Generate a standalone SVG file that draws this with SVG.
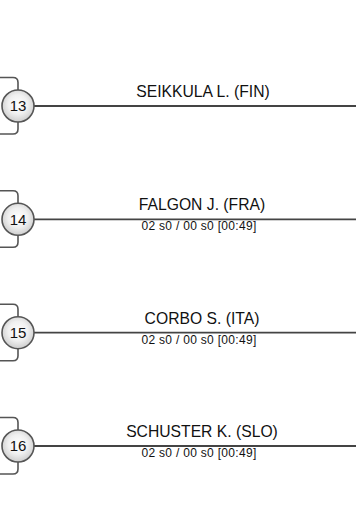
<svg xmlns="http://www.w3.org/2000/svg" width="358" height="519" viewBox="0 0 358 519">
<defs>
<radialGradient id="g" cx="0.5" cy="0.45" r="0.55">
<stop offset="0" stop-color="#ffffff"/>
<stop offset="0.55" stop-color="#f0f0f0"/>
<stop offset="1" stop-color="#cdcdcd"/>
</radialGradient>
<style>
.br{fill:none;stroke:#555;stroke-width:1.6}
.ln{fill:none;stroke:#444;stroke-width:1.8}
.c{fill:url(#g);stroke:#555;stroke-width:1.6}
.n{font-family:"Liberation Sans",Arial,sans-serif;font-size:15px;fill:#111;text-anchor:middle}
.nm{font-family:"Liberation Sans",Arial,sans-serif;font-size:15.7px;fill:#111;text-anchor:middle}
.sc{font-family:"Liberation Sans",Arial,sans-serif;font-size:12px;letter-spacing:0.3px;fill:#111;text-anchor:middle}
</style>
</defs>
<rect width="358" height="519" fill="#fff"/>
<g id="connectors">
<path class="br" d="M0,77.5 H13 Q18,77.5 18,82.5 V90 M18,122 V129 Q18,134 13,134 H0"/>
<path class="ln" d="M34,106 H356"/>
<path class="br" d="M0,190.8 H13 Q18,190.8 18,195.8 V203.3 M18,235.3 V242.3 Q18,247.3 13,247.3 H0"/>
<path class="ln" d="M34,219.3 H356"/>
<path class="br" d="M0,304.2 H13 Q18,304.2 18,309.2 V316.7 M18,348.7 V355.7 Q18,360.7 13,360.7 H0"/>
<path class="ln" d="M34,332.7 H356"/>
<path class="br" d="M0,417.5 H13 Q18,417.5 18,422.5 V430 M18,462 V469 Q18,474 13,474 H0"/>
<path class="ln" d="M34,446 H356"/>
</g>
<g id="n13">
<circle class="c" cx="18" cy="106" r="16"/>
<text class="n" x="18" y="111.3">13</text>
<text class="nm" x="203" y="97">SEIKKULA L. (FIN)</text>
</g>
<g id="n14">
<circle class="c" cx="18" cy="219.3" r="16"/>
<text class="n" x="18" y="224.6">14</text>
<text class="nm" x="202" y="210.3">FALGON J. (FRA)</text>
<text class="sc" x="199" y="230.3">02 s0 / 00 s0 [00:49]</text>
</g>
<g id="n15">
<circle class="c" cx="18" cy="332.7" r="16"/>
<text class="n" x="18" y="338">15</text>
<text class="nm" x="202" y="323.7">CORBO S. (ITA)</text>
<text class="sc" x="199" y="343.7">02 s0 / 00 s0 [00:49]</text>
</g>
<g id="n16">
<circle class="c" cx="18" cy="446" r="16"/>
<text class="n" x="18" y="451.3">16</text>
<text class="nm" x="202" y="437">SCHUSTER K. (SLO)</text>
<text class="sc" x="199" y="457">02 s0 / 00 s0 [00:49]</text>
</g>
</svg>
